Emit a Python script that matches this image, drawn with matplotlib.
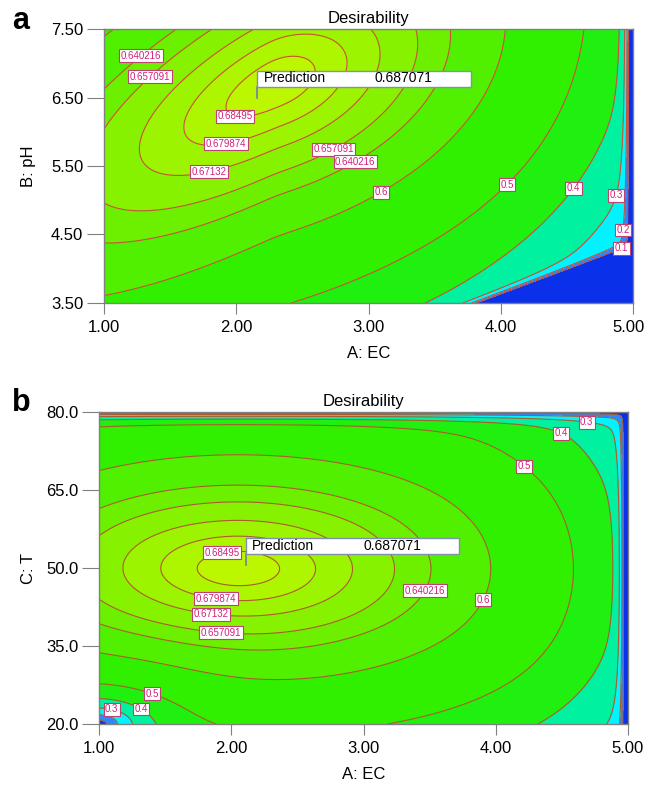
import numpy as np
import matplotlib
matplotlib.use("Agg")
import matplotlib.pyplot as plt
from matplotlib.patches import Rectangle
from matplotlib.transforms import ScaledTranslation

plt.rcParams["font.family"] = ["Liberation Sans", "DejaVu Sans"]

# desirability contour levels drawn on both panels
levels = [0.1, 0.2, 0.3, 0.4, 0.5, 0.6, 0.640216, 0.657091, 0.67132, 0.679874, 0.68495]
band_colors = ["#0a30ea", "#2d88ff", "#00f4ff", "#00f2a0", "#20f010", "#30f000",
               "#50f000", "#6cf000", "#86f200", "#9cf400", "#aef500", "#bcf700"]
prediction = 0.687071

ec_ticks = [1.0, 2.0, 3.0, 4.0, 5.0]
ph_ticks = [3.5, 4.5, 5.5, 6.5, 7.5]
temp_ticks = [20.0, 35.0, 50.0, 65.0, 80.0]

# panel a surface (A: EC vs B: pH): peak x, y, D / quadratic A, H, B
a_peak = [2.31, 6.73, 0.6871]
a_quad = [0.0299, -0.01634, 0.0174]
a_skew = 0.0145
a_edge = [0.2, 8.4, 4.975, 0.03]          # gentle c, n / sharp edge x, width
a_floor = [[3.84, 3.5], [4.92, 4.27]]     # edge of the zero zone, bottom right
a_floor_width = 3.3
a_pred = [2.16, 6.5]

# panel b surface (A: EC vs C: T)
b_peak = [2.05, 49.8, 0.6871]
b_quad = [0.0205, 0.00018]
b_edge = [0.248, 8.4, 4.975, 0.03]
b_top = [80.0, 1.0]
b_corner = [0.97, 0.075, 0.065]
b_pred = [2.11, 50.6]

# contour labels: level, x, y
a_labels = [(0.640216, 1.26, 7.16), (0.657091, 1.32, 6.87), (0.68495, 2.0, 6.27),
            (0.679874, 1.92, 5.86), (0.67132, 1.79, 5.43), (0.657091, 2.73, 5.76),
            (0.640216, 2.9, 5.56), (0.6, 3.1, 5.11), (0.5, 4.08, 5.16),
            (0.4, 4.61, 5.09), (0.3, 4.90, 5.06), (0.2, 4.92, 4.57), (0.1, 4.91, 4.32)]
b_labels = [(0.68495, 1.95, 50.0), (0.679874, 1.90, 46.7), (0.67132, 1.86, 43.5),
            (0.657091, 1.93, 39.2), (0.640216, 3.39, 46.7), (0.6, 3.81, 45.2),
            (0.5, 4.21, 69.4), (0.4, 4.49, 75.4), (0.3, 4.69, 78.5),
            (0.5, 1.39, 25.2), (0.4, 1.29, 21.7), (0.3, 1.09, 22.5)]


def edge_factor(x, edge):
    c, n, xe, s = edge
    t = (x - ec_ticks[0]) / (ec_ticks[-1] - ec_ticks[0])
    e1 = 1 - c * t ** n
    e2 = np.clip(1 - np.exp(-(xe - x) / s), 0, None)
    return e1 * e2


def field_a(x, y):
    px, py, dm = a_peak
    qa, qh, qb = a_quad
    dx, dy = x - px, y - py
    q = qa * dx ** 2 + 2 * qh * dx * dy + qb * dy ** 2
    dxp = 0.5 * (dx + np.sqrt(dx ** 2 + 0.01))
    d = dm - q - a_skew * dxp * dy
    # distance above the slanted zero-zone edge, in screen-like units
    (x1, y1), (x2, y2) = a_floor
    sx, sy = 132.25, 68.5
    ux, uy = (x2 - x1) * sx, (y2 - y1) * sy
    dist = (ux * (y - y1) * sy - uy * (x - x1) * sx) / np.hypot(ux, uy)
    ls = np.clip(1 - np.exp(-dist / a_floor_width), 0, None)
    return np.clip(d * edge_factor(x, a_edge) * ls, 0, None)


def field_b(x, y):
    cx, cy, dm = b_peak
    kx, ky = b_quad
    d = dm - kx * (x - cx) ** 2 - ky * (y - cy) ** 2
    yt, st = b_top
    f = np.clip(1 - np.exp(-(yt - y) / st), 0, None)
    a, sxc, syc = b_corner
    r = np.hypot((x - 1) / 4 / sxc, (y - 20) / 60 / syc)
    c = 1 - a * np.exp(-r)
    return np.clip(d * edge_factor(x, b_edge) * f * c, 0, None)


def label_on_line(ax, cs, lv, lx, ly):
    # put the label on the nearest point of the contour at this level
    segs = cs.allsegs[levels.index(lv)]
    pts = np.vstack([s for s in segs if len(s)])
    disp = ax.transData.transform(pts)
    target = ax.transData.transform([(lx, ly)])[0]
    i = np.argmin(np.hypot(*(disp - target).T))
    ax.text(pts[i, 0], pts[i, 1], "%g" % lv, fontsize=7, color="#d0207a",
            ha="center", va="center", zorder=4,
            bbox=dict(boxstyle="square,pad=0.15", fc="white", ec="#c04070", lw=0.8))


def draw_panel(ax, field, yticks, yfmt, ylabel, ypad, labels, pred, line_color):
    x = np.linspace(ec_ticks[0], ec_ticks[-1], 500)
    y = np.linspace(yticks[0], yticks[-1], 500)
    X, Y = np.meshgrid(x, y)
    Z = field(X, Y)
    fill_edges = [-1.0] + levels + [1.0]
    ax.set_xlim(ec_ticks[0], ec_ticks[-1])
    ax.set_ylim(yticks[0], yticks[-1])
    ax.contourf(X, Y, Z, levels=fill_edges, colors=band_colors)
    cs = ax.contour(X, Y, Z, levels=levels, colors=line_color, linewidths=0.8)
    for lv, lx, ly in labels:
        label_on_line(ax, cs, lv, lx, ly)

    # prediction flag
    xspan = ec_ticks[-1] - ec_ticks[0]
    yspan = yticks[-1] - yticks[0]
    h_ax = ax.get_position().height * 787
    box_w = 0.403 * xspan
    box_h = 16 / h_ax * yspan
    stick = 11 / h_ax * yspan
    bx, by = pred[0], pred[1] + stick
    ax.plot([pred[0], pred[0]], [pred[1], by], color="#7080a8", lw=1.2, zorder=5)
    ax.add_patch(Rectangle((bx, by), box_w, box_h, fc="white", ec="#8090b0",
                           lw=1.0, zorder=6))
    ax.text(bx + 0.03 * box_w, by + box_h / 2, "Prediction", fontsize=10,
            va="center", ha="left", zorder=7)
    ax.text(bx + 0.55 * box_w, by + box_h / 2, "%.6f" % prediction, fontsize=10,
            va="center", ha="left", zorder=7)

    ax.set_xticks(ec_ticks)
    ax.set_xticklabels(["%.2f" % v for v in ec_ticks])
    ax.set_yticks(yticks)
    ax.set_yticklabels([yfmt % v for v in yticks])
    ax.tick_params(axis="x", direction="out", length=8, color="#808080",
                   labelsize=12, pad=4)
    ax.tick_params(axis="y", direction="out", length=12, color="#808080",
                   labelsize=12, pad=3)
    for sp in ax.spines.values():
        sp.set_color("#808080")
        sp.set_linewidth(1.0)
    ax.set_title("Desirability", fontsize=12, pad=4)
    ax.set_xlabel("A: EC", fontsize=12, labelpad=8)
    ax.set_ylabel(ylabel, fontsize=12, labelpad=ypad)


fig = plt.figure(figsize=(6.47, 7.87), dpi=100)
ax_a = fig.add_axes([104 / 647, 1 - 303 / 787, 529 / 647, 274 / 787])
ax_b = fig.add_axes([99 / 647, 1 - 724 / 787, 529 / 647, 312 / 787])

draw_panel(ax_a, field_a, ph_ticks, "%.2f", "B: pH", 11, a_labels, a_pred, "#c8503c")
draw_panel(ax_b, field_b, temp_ticks, "%.1f", "C: T", 7, b_labels, b_pred, "#a85c30")

# keep the last EC tick label of panel a inside the figure
last = ax_a.get_xticklabels()[-1]
last.set_transform(last.get_transform() + ScaledTranslation(-4 / 100, 0, fig.dpi_scale_trans))

fig.text(0.018, 1 - 6 / 787, "a", fontsize=22, fontweight="bold", va="top")
fig.text(0.018, 1 - 388 / 787, "b", fontsize=22, fontweight="bold", va="top")

plt.savefig("out.png", dpi=100)
